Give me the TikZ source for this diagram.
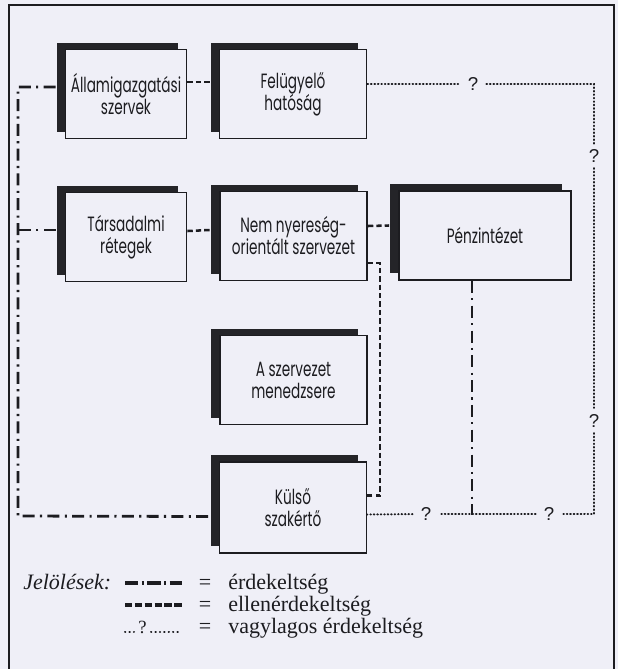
\documentclass[tikz,border=0pt]{standalone}
\usepackage{fontspec}
\setmainfont{Liberation Serif}
\newfontfamily\boxfont[FakeStretch=0.66]{Poppins}
\newfontfamily\qfont{Liberation Sans}
\usetikzlibrary{shadows,calc}
\definecolor{paper}{RGB}{239,239,247}
\definecolor{ink}{RGB}{28,28,32}
\definecolor{shade}{RGB}{36,36,40}
\newcommand\legendfont{\fontsize{16.5}{18}\selectfont}

\begin{document}
\begin{tikzpicture}[x=0.75pt,y=-0.75pt,
  unit/.style={draw=ink, line width=1.4pt, fill=paper, inner sep=2pt, align=center,
    minimum height=66.75pt, text=ink,
    font=\boxfont\fontsize{15.5}{16.5}\selectfont,
    drop shadow={shadow xshift=-6.75pt, shadow yshift=5.25pt, fill=shade, opacity=1}},
  narrowunit/.style={unit, minimum width=90.75pt},
  wideunit/.style={unit, minimum width=110.25pt},
  ddot/.style={draw=ink, line width=2.1pt, dash pattern=on 9pt off 4pt on 1.6pt off 4pt},
  dashline/.style={draw=ink, line width=1.9pt, dash pattern=on 4pt off 2.3pt},
  dotline/.style={draw=ink, line width=1.5pt, line cap=round, dash pattern=on 0.5pt off 2.1pt},
  qmark/.style={font=\qfont\fontsize{14}{14}\selectfont, text=ink, inner xsep=6pt, inner ysep=4pt},
  legtext/.style={anchor=base west, font=\legendfont, text=ink, inner sep=0pt},
  legeq/.style={anchor=base, font=\legendfont, text=ink, inner sep=0pt}
]
% page and frame
\useasboundingbox (0,0) rectangle (618,669);
\fill[paper] (0,0) rectangle (618,669);
\draw[ink, line width=1.6pt] (9,680) -- (9,5) -- (614,5) -- (614,680);

% boxes
\node[narrowunit] (A) at (126,94) {Államigazgatási\\szervek};
\node[wideunit] (F) at (293,94) {Felügyelő\\hatóság};
\node[narrowunit] (T) at (126,237) {Társadalmi\\rétegek};
\node[wideunit] (N) at (293.5,236) {Nem nyereség-\\orientált szervezet};
\node[unit, minimum width=129pt] (P) at (485,235.5) {Pénzintézet};
\node[wideunit] (M) at (293.5,380) {A szervezet\\menedzsere};
\node[wideunit, minimum height=68.25pt] (K) at (293,507.5) {Külső\\szakértő};

% attachment points
\coordinate (Aw) at ([shift={(-9,-7)}]A.west);
\coordinate (Tw) at ([shift={(-9,-7)}]T.west);
\coordinate (Kw) at ([shift={(-9,9)}]K.west);
\coordinate (Lb) at (18,516);
\coordinate (Kd) at ([shift={(0,7)}]K.east);
\coordinate (Pd) at ([shift={(-13,0)}]P.south);

% interest (dash-dot)
\draw[ddot] (Aw) -| (Lb) -- (Kw);
\draw[ddot] (Tw) -- (Tw -| Lb);
\draw[ddot] (Pd) -- (Pd |- Kd);

% counter-interest (dashed)
\draw[dashline] ([shift={(0,-12)}]A.east) -- ([shift={(-9,-12)}]F.west);
\draw[dashline] ([shift={(0,-6)}]T.east) -- ([shift={(-9,-6)}]N.west);
\draw[dashline] ([shift={(0,-10)}]N.east) -- ([shift={(-9,-10)}]P.west);
\draw[dashline] ([shift={(0,27)}]N.east) -- ++(12,0) |- ([shift={(0,-12)}]K.east);

% alternative interest (dotted, with question marks)
\node[qmark] (q1) at (473,84) {?};
\node[qmark] (q2) at (594,156) {?};
\node[qmark] (q3) at (594,421) {?};
\node[qmark] (q4) at (549,514) {?};
\node[qmark] (q5) at (426,514) {?};
\draw[dotline] ([shift={(0,-10)}]F.east) -- (q1);
\draw[dotline] (q1) -| (q2);
\draw[dotline] (q2) -- (q3);
\draw[dotline] (q3) |- (q4);
\draw[dotline] (q4) -- (q5);
\draw[dotline] (q5) -- (Kd);

% legend
\node[legtext, font=\legendfont\itshape] (jel) at (23,589) {Jelölések:};
\coordinate (s1a) at (125,583); \coordinate (s1b) at (182,583);
\coordinate (s2a) at (125,605); \coordinate (s2b) at (182,605);
\draw[ink, line width=2.4pt, dash pattern=on 10pt off 2.6pt on 1.5pt off 2.6pt] (s1a) -- (s1b);
\draw[ink, line width=2.4pt, dash pattern=on 5.4pt off 2pt] (s2a) -- (s2b);
\node[legtext, font=\fontsize{14}{14}\selectfont] (lq) at (138,633) {?};
\coordinate (s3a) at (125,631.5); \coordinate (s3b) at (134,631.5);
\coordinate (s3c) at (151,631.5); \coordinate (s3d) at (181,631.5);
\draw[ink, line width=1.5pt, line cap=round, dash pattern=on 0.3pt off 3pt] (s3a) -- (s3b);
\draw[ink, line width=1.5pt, line cap=round, dash pattern=on 0.3pt off 3pt] (s3c) -- (s3d);
\node[legeq] (e1) at (205,589) {=};
\node[legeq] (e2) at (205,611) {=};
\node[legeq] (e3) at (205,633) {=};
\node[legtext] (l1) at (228,589) {érdekeltség};
\node[legtext] (l2) at (228,611) {ellenérdekeltség};
\node[legtext] (l3) at (228,633) {vagylagos érdekeltség};
\end{tikzpicture}
\end{document}
